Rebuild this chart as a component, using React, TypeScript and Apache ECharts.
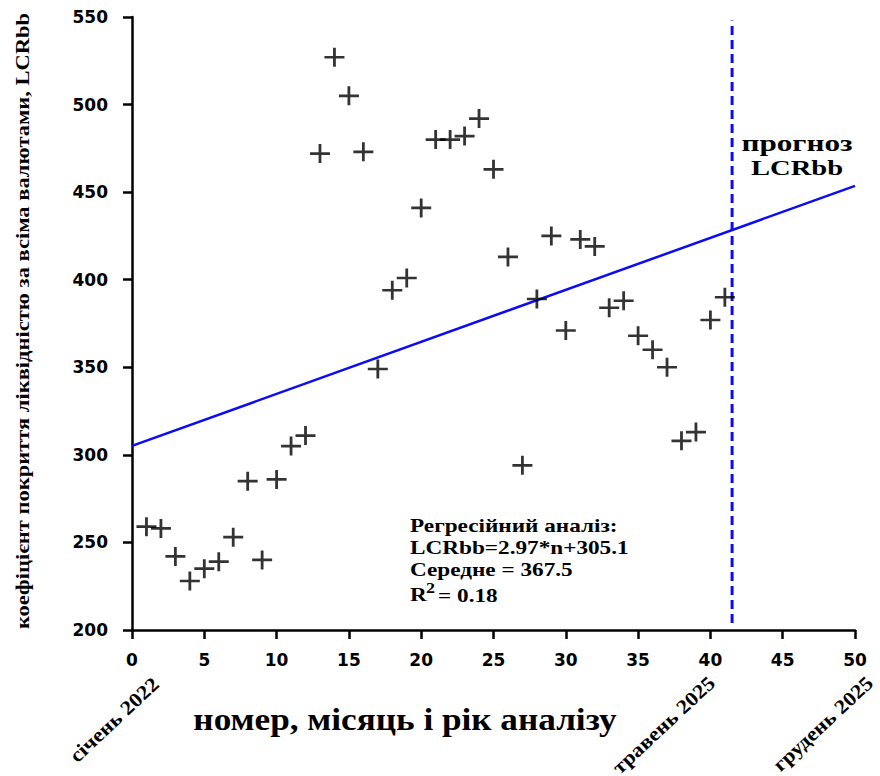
import React, { useEffect, useRef } from "react";
import * as echarts from "echarts";

const monthNumbers = [
  1, 2, 3, 4, 5, 6, 7, 8, 9, 10, 11, 12, 13, 14, 15, 16, 17, 18, 19, 20, 21,
  22, 23, 24, 25, 26, 27, 28, 29, 30, 31, 32, 33, 34, 35, 36, 37, 38, 39, 40, 41,
];
const lcrValues = [
  259, 258, 242, 228, 235, 239, 253, 285, 240, 286, 305, 311, 472, 527, 505,
  473, 349, 394, 401, 441, 480, 480, 482, 492, 463, 413, 294, 389, 425, 371,
  423, 419, 384, 388, 368, 360, 350, 308, 313, 377, 390,
];
const trendX = [0, 50];
const trendY = [305.1, 453.6];
const forecastX = 41.5;
const forecastRange = [204, 548];
const yTicks = [200, 550, 50];
const xTicks = [0, 50, 5];
const statLines = [
  "Регресійний аналіз:",
  "LCRbb=2.97*n+305.1",
  "Середне = 367.5",
];
const r2Text = "= 0.18";
const dateLabels = ["січень 2022", "травень 2025", "грудень 2025"];

const SERIF = "'Liberation Serif', 'Times New Roman', serif";
const SANS = "'DejaVu Sans', sans-serif";

export default function App() {
  const ref = useRef<HTMLDivElement>(null);
  useEffect(() => {
    if (!ref.current) return;
    const chart = echarts.init(ref.current, undefined, { renderer: "svg" });
    const plus = "path://M8.6,0h2.8v20h-2.8zM0,8.6h20v2.8h-20z";
    const axisCommon = {
      axisLine: { show: true, onZero: false, lineStyle: { color: "#000", width: 2.5 } },
      axisTick: { show: true, length: 9, lineStyle: { color: "#000", width: 2.5 } },
      splitLine: { show: false },
      axisLabel: { color: "#000", fontFamily: SANS, fontWeight: "bold", fontSize: 17 },
    };
    const rot = (43 * Math.PI) / 180;
    const dateStyle = {
      fill: "#000",
      font: `bold 20px ${SERIF}`,
      textAlign: "right",
      textVerticalAlign: "middle",
    };
    const statStyle = { fill: "#000", font: `bold 18px ${SERIF}`, textAlign: "left", textVerticalAlign: "middle" };
    chart.setOption({
      animation: false,
      backgroundColor: "#fff",
      grid: { left: 132, right: 25, top: 17, bottom: 146, containLabel: false },
      xAxis: {
        type: "value",
        min: xTicks[0],
        max: xTicks[1],
        interval: xTicks[2],
        ...axisCommon,
        axisLabel: { ...axisCommon.axisLabel, margin: 21 },
      },
      yAxis: {
        type: "value",
        min: yTicks[0],
        max: yTicks[1],
        interval: yTicks[2],
        ...axisCommon,
        axisLabel: { ...axisCommon.axisLabel, margin: 24 },
      },
      series: [
        {
          type: "line",
          data: trendX.map((x, i) => [x, trendY[i]]),
          showSymbol: false,
          lineStyle: { color: "#0b0bf5", width: 2.5 },
          z: 2,
        },
        {
          type: "line",
          data: forecastRange.map((y) => [forecastX, y]),
          showSymbol: false,
          lineStyle: { color: "#0b0bf5", width: 3, type: [9, 5] },
          z: 2,
        },
        {
          type: "scatter",
          data: monthNumbers.map((n, i) => [n, lcrValues[i]]),
          symbol: plus,
          symbolSize: [20, 19],
          itemStyle: { color: "#000" },
          z: 3,
        },
      ],
      graphic: [
        {
          type: "text",
          x: 23,
          y: 321,
          rotation: Math.PI / 2,
          scaleX: 1.185,
          style: {
            text: "коефіцієнт покриття ліквідністю за всіма валютами, LCRbb",
            fill: "#000",
            font: `bold 19px ${SERIF}`,
            textAlign: "center",
            textVerticalAlign: "middle",
          },
        },
        {
          type: "text",
          x: 405,
          y: 719,
          scaleX: 1.1,
          style: {
            text: "номер, місяць і рік аналізу",
            fill: "#000",
            font: `bold 32px ${SERIF}`,
            textAlign: "center",
            textVerticalAlign: "middle",
          },
        },
        { type: "text", x: 156, y: 681, rotation: rot, scaleX: 1.12, style: { ...dateStyle, text: dateLabels[0] } },
        { type: "text", x: 712, y: 680, rotation: rot, scaleX: 1.12, style: { ...dateStyle, text: dateLabels[1] } },
        { type: "text", x: 870, y: 680, rotation: rot, scaleX: 1.12, style: { ...dateStyle, text: dateLabels[2] } },
        {
          type: "text",
          x: 797,
          y: 143,
          scaleX: 1.3,
          style: { text: "прогноз", fill: "#000", font: `bold 24px ${SERIF}`, textAlign: "center", textVerticalAlign: "middle" },
        },
        {
          type: "text",
          x: 797,
          y: 168,
          scaleX: 1.3,
          style: { text: "LCRbb", fill: "#000", font: `bold 22px ${SERIF}`, textAlign: "center", textVerticalAlign: "middle" },
        },
        ...statLines.map((t, i) => ({
          type: "text",
          x: 410,
          y: 526 + i * 22,
          scaleX: 1.29,
          style: { ...statStyle, text: t },
        })),
        { type: "text", x: 410, y: 595, scaleX: 1.29, style: { ...statStyle, text: "R" } },
        {
          type: "text",
          x: 426,
          y: 588,
          scaleX: 1.29,
          style: { text: "2", fill: "#000", font: `bold 14px ${SERIF}`, textAlign: "left", textVerticalAlign: "middle" },
        },
        { type: "text", x: 438, y: 596, scaleX: 1.29, style: { ...statStyle, text: r2Text } },
      ],
    });
    return () => chart.dispose();
  }, []);
  return <div ref={ref} style={{ width: 880, height: 776, position: "absolute", left: 0, top: 0 }} />;
}
